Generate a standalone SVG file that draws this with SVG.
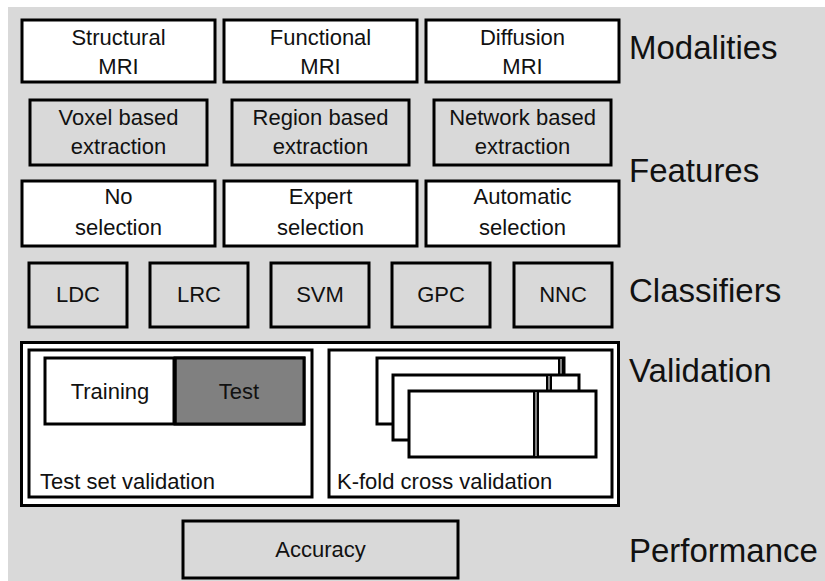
<svg xmlns="http://www.w3.org/2000/svg" width="825" height="581" viewBox="0 0 825 581">
<style>
  .bx { stroke: #000; stroke-width: 3; }
  .w { fill: #ffffff; }
  .g { fill: #d9d9d9; }
  .t { font-family: "Liberation Sans", Arial, sans-serif; font-size: 22px; fill: #111; text-anchor: middle; }
  .ts { font-family: "Liberation Sans", Arial, sans-serif; font-size: 22px; fill: #111; }
  .lbl { font-family: "Liberation Sans", Arial, sans-serif; font-size: 33px; fill: #111; }
  .strip { fill: #808080; stroke: #000; stroke-width: 2; }
</style>
<rect x="0" y="0" width="825" height="581" fill="#ffffff"/>
<rect x="8" y="7" width="817" height="574" fill="#d9d9d9"/>

<g id="connectors"/>

<g id="modalities">
  <g id="structural-mri"><rect class="bx w" x="22" y="20" width="193" height="62"/><text class="t" x="118.5" y="45">Structural</text><text class="t" x="118.5" y="74">MRI</text></g>
  <g id="functional-mri"><rect class="bx w" x="224" y="20" width="193" height="62"/><text class="t" x="320.5" y="45">Functional</text><text class="t" x="320.5" y="74">MRI</text></g>
  <g id="diffusion-mri"><rect class="bx w" x="426" y="20" width="193" height="62"/><text class="t" x="522.5" y="45">Diffusion</text><text class="t" x="522.5" y="74">MRI</text></g>
</g>

<g id="extraction">
  <g id="voxel"><rect class="bx g" x="30" y="100" width="177" height="65"/><text class="t" x="118.5" y="125">Voxel based</text><text class="t" x="118.5" y="154">extraction</text></g>
  <g id="region"><rect class="bx g" x="232" y="100" width="177" height="65"/><text class="t" x="320.5" y="125">Region based</text><text class="t" x="320.5" y="154">extraction</text></g>
  <g id="network"><rect class="bx g" x="434" y="100" width="177" height="65"/><text class="t" x="522.5" y="125">Network based</text><text class="t" x="522.5" y="154">extraction</text></g>
</g>

<g id="selection">
  <g id="no-selection"><rect class="bx w" x="22" y="181" width="193" height="65"/><text class="t" x="118.5" y="204">No</text><text class="t" x="118.5" y="235">selection</text></g>
  <g id="expert-selection"><rect class="bx w" x="224" y="181" width="193" height="65"/><text class="t" x="320.5" y="204">Expert</text><text class="t" x="320.5" y="235">selection</text></g>
  <g id="automatic-selection"><rect class="bx w" x="426" y="181" width="193" height="65"/><text class="t" x="522.5" y="204">Automatic</text><text class="t" x="522.5" y="235">selection</text></g>
</g>

<g id="classifiers">
  <g id="ldc"><rect class="bx g" x="29" y="263" width="98" height="64"/><text class="t" x="78" y="302">LDC</text></g>
  <g id="lrc"><rect class="bx g" x="150" y="263" width="98" height="64"/><text class="t" x="199" y="302">LRC</text></g>
  <g id="svm"><rect class="bx g" x="271" y="263" width="98" height="64"/><text class="t" x="320" y="302">SVM</text></g>
  <g id="gpc"><rect class="bx g" x="392" y="263" width="98" height="64"/><text class="t" x="441" y="302">GPC</text></g>
  <g id="nnc"><rect class="bx g" x="514" y="263" width="98" height="64"/><text class="t" x="563" y="302">NNC</text></g>
</g>

<g id="validation">
  <rect class="bx w" x="21.5" y="342.5" width="597" height="163"/>
  <g id="test-set-validation">
    <rect class="bx w" x="29" y="350" width="283" height="147"/>
    <rect class="bx w" x="45" y="358" width="259" height="66"/>
    <rect x="175" y="358" width="129" height="66" fill="#808080" stroke="#000" stroke-width="3"/>
    <line x1="174.5" y1="358" x2="174.5" y2="424" stroke="#000" stroke-width="4"/>
    <text class="t" x="110" y="399">Training</text>
    <text class="t" x="239" y="399">Test</text>
    <text class="ts" x="40" y="489">Test set validation</text>
  </g>
  <g id="kfold-validation">
    <rect class="bx w" x="329" y="350" width="283" height="147"/>
    <rect class="bx w" x="377" y="358" width="187" height="66"/>
    <rect class="strip" x="559" y="358" width="4" height="66"/>
    <rect class="bx w" x="393" y="375" width="186" height="65"/>
    <rect class="strip" x="547" y="375" width="4" height="65"/>
    <rect class="bx w" x="409" y="391" width="187" height="66"/>
    <rect class="strip" x="534" y="391" width="4" height="66"/>
    <text class="ts" x="337" y="489">K-fold cross validation</text>
  </g>
</g>

<g id="accuracy"><rect class="bx g" x="183" y="521" width="275" height="57"/><text class="t" x="320.5" y="557">Accuracy</text></g>

<g id="labels">
  <text class="lbl" x="629" y="59">Modalities</text>
  <text class="lbl" x="629" y="182">Features</text>
  <text class="lbl" x="629" y="302">Classifiers</text>
  <text class="lbl" x="629" y="382">Validation</text>
  <text class="lbl" x="629" y="562">Performance</text>
</g>
</svg>
